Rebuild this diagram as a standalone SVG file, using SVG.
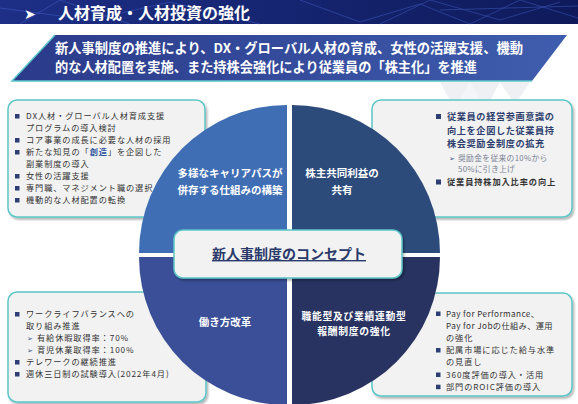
<svg xmlns="http://www.w3.org/2000/svg" width="578" height="404" viewBox="0 0 578 404">
<defs>
<linearGradient id="hdr" x1="0" y1="0" x2="1" y2="0"><stop offset="0" stop-color="#1d2f86"/><stop offset="1" stop-color="#0e1a5a"/></linearGradient>
<linearGradient id="ban" x1="0" y1="0" x2="1" y2="0"><stop offset="0" stop-color="#2b3a8a"/><stop offset="1" stop-color="#3f5dae"/></linearGradient>
<filter id="sh" x="-5%" y="-5%" width="112%" height="115%"><feDropShadow dx="1.5" dy="2" stdDeviation="1.2" flood-color="#000" flood-opacity="0.3"/></filter>
<style>
.box{fill:#f2f2f2;stroke:#5cc6c8;stroke-width:1.5}
.t{font-family:"Noto Sans CJK JP","Noto Sans",sans-serif;font-size:8.2px;letter-spacing:0.9px;fill:#333}
.lat{letter-spacing:0.4px}
.b{fill:#2d3e73}
.sub{font-family:"Noto Sans CJK JP","Noto Sans",sans-serif;font-size:7.8px;letter-spacing:0.3px;fill:#7a8294}
.bt{font-family:"Noto Sans CJK JP","Noto Sans",sans-serif;font-size:9.2px;letter-spacing:0.6px;font-weight:bold;fill:#2e3f6e}
.q{font-family:"Noto Sans CJK JP","Noto Sans",sans-serif;font-size:10.5px;font-weight:bold;fill:#fff;text-anchor:middle}
.q2{font-size:9.8px;letter-spacing:0.7px}
.arr{font-family:"DejaVu Sans",sans-serif;font-size:7px;fill:#3b4f8c}
</style>
</defs>
<rect width="578" height="404" fill="#fff"/>
<g id="bgpattern" fill="#eef0f4">
<polygon points="440,82 470,82 455,110"/><polygon points="470,82 500,82 485,110"/><polygon points="455,110 485,110 470,82" fill="#f4f5f8"/><polygon points="500,82 530,82 515,105"/>
</g>
<g id="header">
<rect x="0" y="0" width="578" height="24" fill="url(#hdr)"/>
<g stroke="#4f70e0" stroke-width="0.7" opacity="0.55" fill="none">
<path d="M0,8 L90,20 L170,2 L260,24"/><path d="M300,0 L360,22 L420,4 L470,24 L520,0 L578,18"/><path d="M380,24 L430,0 L500,20 L560,2"/><path d="M20,24 L60,0 L130,24"/><path d="M440,10 L578,6"/>
</g>
<text x="24" y="19" font-family="DejaVu Sans,sans-serif" font-size="14" font-weight="bold" fill="#fff">➤</text>
<text x="58" y="19" font-family="Noto Sans CJK JP,sans-serif" font-size="16" font-weight="bold" fill="#fff">人材育成・人材投資の強化</text>
</g>
<g id="banner">
<polygon points="55,35 567,35 532,81 12,81" fill="url(#ban)"/>
<polyline points="55,35 12,81 532,81" fill="none" stroke="#5cc6c8" stroke-width="1.5"/>
<text x="55" y="52.5" font-family="Noto Sans CJK JP,sans-serif" font-size="13.4" font-weight="bold" fill="#fff" textLength="468" lengthAdjust="spacingAndGlyphs">新人事制度の推進により、DX・グローバル人材の育成、女性の活躍支援、機動</text>
<text x="55" y="72" font-family="Noto Sans CJK JP,sans-serif" font-size="13.4" font-weight="bold" fill="#fff" textLength="422" lengthAdjust="spacingAndGlyphs">的な人材配置を実施、また持株会強化により従業員の「株主化」を推進</text>
</g>
<g id="box-tl">
<rect class="box" x="8" y="100" width="197" height="117" rx="9" filter="url(#sh)"/>
<rect class="b" x="15" y="114" width="4.5" height="4.5"/>
<text class="t" x="26" y="119">DX人材・グローバル人材育成支援</text>
<text class="t" x="26" y="131">プログラムの導入検討</text>
<rect class="b" x="15" y="138" width="4.5" height="4.5"/>
<text class="t" x="26" y="143">コア事業の成長に必要な人材の採用</text>
<rect class="b" x="15" y="150" width="4.5" height="4.5"/>
<text class="t" x="26" y="155">新たな知見の「<tspan fill="#2f55a0" font-weight="bold">創造</tspan>」を企図した</text>
<text class="t" x="26" y="167">副業制度の導入</text>
<rect class="b" x="15" y="174" width="4.5" height="4.5"/>
<text class="t" x="26" y="179">女性の活躍支援</text>
<rect class="b" x="15" y="186" width="4.5" height="4.5"/>
<text class="t" x="26" y="191">専門職、マネジメント職の選択</text>
<rect class="b" x="15" y="198" width="4.5" height="4.5"/>
<text class="t" x="26" y="203">機動的な人材配置の転換</text>
</g>
<g id="box-tr">
<rect class="box" x="372" y="100" width="200" height="117" rx="9" filter="url(#sh)"/>
<rect class="b" x="436" y="114" width="5" height="5"/>
<text class="bt" x="447" y="120">従業員の経営参画意識の</text>
<text class="bt" x="447" y="133.5">向上を企図した従業員持</text>
<text class="bt" x="447" y="147">株会奨励金制度の拡充</text>
<text class="arr" x="449" y="160.5">➢</text>
<text class="sub" x="458" y="160.5">奨励金を従来の10%から</text>
<text class="sub" x="458" y="172">50%に引き上げ</text>
<rect class="b" x="436" y="179.5" width="5" height="5"/>
<text class="t" x="447" y="184.5" font-weight="bold" fill="#3a3f55">従業員持株加入比率の向上</text>
</g>
<g id="box-bl">
<rect class="box" x="8" y="292" width="198" height="110" rx="9" filter="url(#sh)"/>
<rect class="b" x="15" y="312" width="4.5" height="4.5"/>
<text class="t" x="26" y="317">ワークライフバランスへの</text>
<text class="t" x="26" y="329">取り組み推進</text>
<text class="arr" x="27" y="341">➢</text>
<text class="t" x="37" y="341">有給休暇取得率：70%</text>
<text class="arr" x="27" y="353">➢</text>
<text class="t" x="37" y="353">育児休業取得率：100%</text>
<rect class="b" x="15" y="360" width="4.5" height="4.5"/>
<text class="t" x="26" y="365">テレワークの継続推進</text>
<rect class="b" x="15" y="372" width="4.5" height="4.5"/>
<text class="t" x="26" y="377">週休三日制の試験導入(2022年4月)</text>
</g>
<g id="box-br">
<rect class="box" x="372" y="293" width="200" height="103" rx="9" filter="url(#sh)"/>
<rect class="b" x="436" y="311.5" width="4.5" height="4.5"/>
<text class="t lat" x="446" y="316.5">Pay for Performance、</text>
<text class="t lat" x="446" y="328.7">Pay for Jobの仕組み、運用</text>
<text class="t" x="446" y="340.9">の強化</text>
<rect class="b" x="436" y="348" width="4.5" height="4.5"/>
<text class="t" x="446" y="353.1">配属市場に応じた給与水準</text>
<text class="t" x="446" y="365.3">の見直し</text>
<rect class="b" x="436" y="372.5" width="4.5" height="4.5"/>
<text class="t" x="446" y="377.5">360度評価の導入・活用</text>
<rect class="b" x="436" y="384.7" width="4.5" height="4.5"/>
<text class="t" x="446" y="389.7">部門のROIC評価の導入</text>
</g>
<g id="quad-tl">
<path d="M287,253 L139,253 A148,148 0 0 1 287,105 Z" fill="#406eb4"/>
<text class="q" x="230" y="177">多様なキャリアパスが</text>
<text class="q" x="230" y="194">併存する仕組みの構築</text>
</g>
<g id="quad-tr">
<path d="M292,253 L292,105 A148,148 0 0 1 440,253 Z" fill="#2c4b7b"/>
<text class="q" x="342" y="177">株主共同利益の</text>
<text class="q" x="342" y="194">共有</text>
</g>
<g id="quad-bl">
<path d="M287,257 L287,405 A148,148 0 0 1 139,257 Z" fill="#3a4f97"/>
<text class="q" x="225" y="326">働き方改革</text>
</g>
<g id="quad-br">
<path d="M292,257 L440,257 A148,148 0 0 1 292,405 Z" fill="#283361"/>
<text class="q q2" x="354" y="320">職能型及び業績連動型</text>
<text class="q q2" x="354" y="334.5">報酬制度の強化</text>
</g>
<g id="center">
<rect class="box" x="174" y="230" width="228" height="48" rx="9" filter="url(#sh)"/>
<text x="289" y="259" font-family="Noto Sans CJK JP,sans-serif" font-size="14" font-weight="bold" fill="#2b3a6b" text-anchor="middle" text-decoration="underline">新人事制度のコンセプト</text>
</g>
</svg>
